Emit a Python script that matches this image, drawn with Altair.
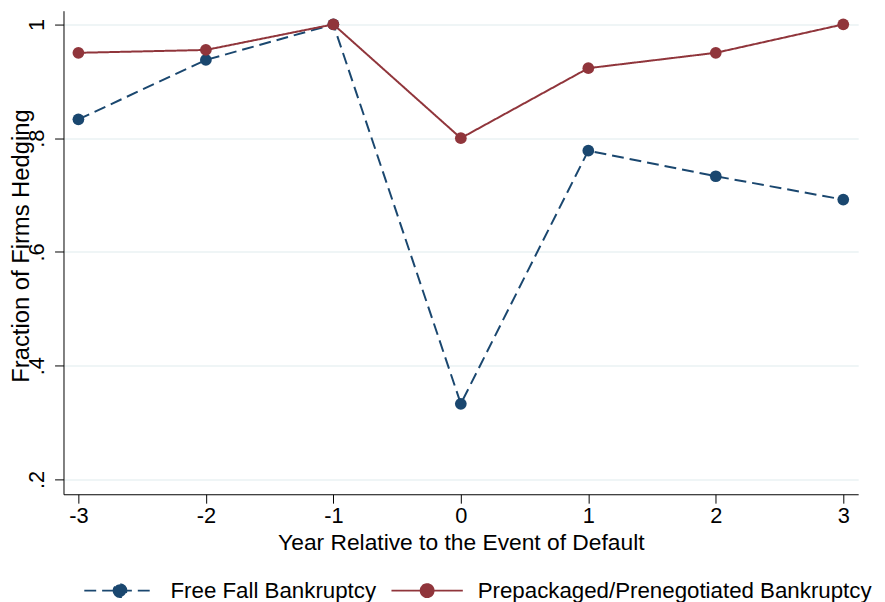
import altair as alt
import pandas as pd

years = [-3, -2, -1, 0, 1, 2, 3]
free_fall = [0.833, 0.9375, 1.0, 0.333, 0.778, 0.733, 0.692]
prepack = [0.95, 0.955, 1.0, 0.8, 0.923, 0.95, 1.0]
series_names = ["Free Fall Bankruptcy", "Prepackaged/Prenegotiated Bankruptcy"]
series_colors = ["#1a476f", "#90353b"]
y_ticks = [0.2, 0.4, 0.6, 0.8, 1.0]

rows = []
for yr, v in zip(years, free_fall):
    rows.append({"year": yr, "value": v, "series": series_names[0]})
for yr, v in zip(years, prepack):
    rows.append({"year": yr, "value": v, "series": series_names[1]})
df = pd.DataFrame(rows)

FONT = "Liberation Sans"

sym_path = "M-1,0H1M-0.18,0A0.18,0.18,0,1,0,0.18,0A0.18,0.18,0,1,0,-0.18,0Z"

color_scale = alt.Scale(domain=series_names, range=series_colors)
dash_scale = alt.Scale(domain=series_names, range=[[12, 6], [1, 0]])

legend = alt.Legend(
    title=None,
    orient="none",
    legendX=20,
    legendY=548,
    direction="horizontal",
    columns=2,
    columnPadding=11,
    symbolType=sym_path,
    symbolSize=5184,
    symbolStrokeWidth=2,
    labelOffset=14,
    labelFont=FONT,
    labelFontSize=22.5,
    labelColor="black",
    labelLimit=600,
)

x_enc = alt.X(
    "year:Q",
    scale=alt.Scale(domain=[-3.117, 3.117], nice=False, zero=False),
    axis=alt.Axis(
        values=years,
        labelExpr="'' + datum.value",
        title="Year Relative to the Event of Default",
        grid=False,
        tickSize=9,
        labelPadding=3,
        titlePadding=5,
        titleFontSize=23,
    ),
)
y_enc = alt.Y(
    "value:Q",
    scale=alt.Scale(domain=[0.174, 1.024], nice=False, zero=False),
    axis=alt.Axis(
        values=y_ticks,
        labelExpr="datum.value >= 1 ? '1' : replace(format(datum.value, '.1f'), '0.', '.')",
        title="Fraction of Firms Hedging",
        grid=True,
        gridColor="#eaf2f3",
        gridWidth=1.5,
        tickSize=9,
        labelAngle=270,
        labelAlign="center",
        labelBaseline="alphabetic",
        labelPadding=11,
        titleAngle=270,
        titleBaseline="alphabetic",
        titleAlign="center",
        titleFontSize=24,
        titleX=-35.5,
        titleY=237,
    ),
)

lines = alt.Chart(df).mark_line(strokeWidth=2).encode(
    x=x_enc,
    y=y_enc,
    color=alt.Color("series:N", scale=color_scale, legend=legend),
    strokeDash=alt.StrokeDash("series:N", scale=dash_scale, legend=legend),
)

points = alt.Chart(df).mark_circle(size=140, opacity=1).encode(
    x=x_enc,
    y=y_enc,
    color=alt.Color("series:N", scale=color_scale, legend=legend),
)

chart = (
    alt.layer(lines, points)
    .properties(
        width=802,
        height=488,
        autosize=alt.AutoSizeParams(type="none"),
        padding={"left": 56, "top": 0, "right": 19, "bottom": 106},
    )
    .configure_view(stroke=None)
    .configure_axis(
        labelFont=FONT,
        titleFont=FONT,
        labelFontSize=22,
        labelColor="black",
        titleColor="black",
        titleFontWeight="normal",
        domainColor="black",
        tickColor="black",
        domainWidth=1,
        tickWidth=1,
    )
)

chart.save("out.html", embed_options={"renderer": "svg", "actions": False})
